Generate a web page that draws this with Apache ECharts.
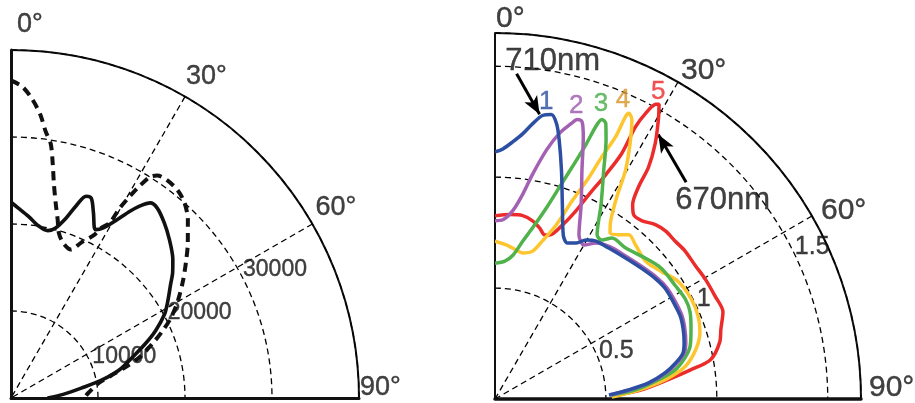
<!DOCTYPE html>
<html><head><meta charset="utf-8">
<script src="https://cdn.jsdelivr.net/npm/echarts@6/dist/echarts.min.js"></script>
<style>html,body{margin:0;padding:0;background:#fff}#c{width:915px;height:403px}</style>
</head><body><div id="c"></div>
<script>
// ---------- DATA (angle in degrees from vertical, value) ----------
const leftSolid = [[0,22500],[2.2,21850],[5.4,21000],[9.0,20050],[12.4,19700],[14.7,20200],[17.0,21600],[18.7,23300],[20.4,24750],[21.9,24750],[24.0,23300],[26.6,21650],[28.5,22250],[30.7,23800],[32.5,25450],[33.9,26600],[35.5,27550],[37.6,27550],[41.2,26750],[45.0,25750],[49.4,24500],[52.1,23550],[54.6,22500],[58.4,21150],[61.4,20100],[65.1,18300],[68.0,16650],[71.6,14650],[75.6,12800],[78.9,10600],[82.0,8150],[85.8,6100],[90,4200]];
const leftDashed = [[0,36500],[2.1,35800],[4.1,34400],[5.9,32750],[7.4,30900],[8.9,29550],[10.1,27350],[11.3,25150],[12.9,23000],[14.7,21150],[16.1,19800],[18.4,18850],[22.0,18400],[24.3,19600],[26.9,20950],[28.0,22150],[29.4,23100],[29.8,25150],[30.5,26900],[31.3,28600],[32.2,30050],[33.3,30600],[35.7,30800],[38.8,30600],[41.7,30000],[44.8,28850],[48.7,27050],[52.2,25450],[55.9,23850],[59.9,22150],[63.5,20500],[66.2,19000],[69.0,17400],[72.5,15450],[75.0,13550],[77.3,11850],[80.4,10200],[86.3,8900],[90,8400]];

const curve1 = [[0,1.114],[1.8,1.128],[4.0,1.163],[6.0,1.203],[7.8,1.253],[9.5,1.296],[11.2,1.308],[12.6,1.272],[13.9,1.204],[16.2,1.074],[19.1,0.928],[22.6,0.801],[24.9,0.775],[27.5,0.793],[29.8,0.826],[32.6,0.845],[37.0,0.852],[42.8,0.866],[48.3,0.885],[53.1,0.904],[57.0,0.915],[61.4,0.915],[65.9,0.915],[69.6,0.905],[73.3,0.890],[76.1,0.874],[78.6,0.833],[81.2,0.777],[84.0,0.696],[86.1,0.604],[88.0,0.514]];
const curve2 = [[0,0.804],[2.5,0.809],[5.4,0.853],[7.7,0.931],[9.5,1.028],[11.7,1.147],[13.6,1.231],[15.5,1.289],[16.4,1.314],[17.4,1.311],[18.6,1.248],[20.8,1.104],[23.9,0.959],[27.1,0.831],[30.1,0.802],[32.9,0.838],[37.0,0.860],[42.8,0.874],[48.3,0.893],[53.1,0.912],[57.0,0.923],[61.4,0.924],[65.9,0.923],[69.6,0.913],[73.3,0.898],[76.1,0.881],[78.6,0.840],[81.2,0.784],[84.0,0.702],[86.1,0.610],[88.0,0.518]];
const curve3 = [[0,0.612],[4.1,0.623],[7.1,0.653],[10.0,0.723],[12.4,0.790],[15.1,0.894],[16.9,0.997],[18.4,1.102],[19.7,1.222],[20.3,1.310],[20.9,1.349],[21.9,1.339],[23.2,1.271],[25.4,1.143],[28.6,0.999],[31.9,0.871],[33.9,0.864],[36.0,0.897],[40.9,0.900],[46.9,0.929],[51.9,0.954],[57.8,0.960],[62.2,0.969],[65.9,0.963],[70.4,0.938],[74.9,0.911],[77.7,0.877],[80.8,0.823],[83.3,0.742],[86.3,0.635],[88.0,0.527]];
const curve4 = [[0,0.712],[4.4,0.696],[8.3,0.678],[10.8,0.670],[14.3,0.688],[16.7,0.744],[19.4,0.833],[21.3,0.960],[23.0,1.086],[23.8,1.193],[24.7,1.302],[24.8,1.404],[25.1,1.422],[26.1,1.403],[27.6,1.319],[29.7,1.188],[31.1,1.062],[33.0,0.958],[34.7,0.911],[37.0,0.927],[39.2,0.955],[42.4,0.940],[47.6,0.920],[52.5,0.945],[57.3,0.981],[62.9,0.993],[67.8,0.989],[71.9,0.972],[76.1,0.933],[80.3,0.870],[83.5,0.773],[86.4,0.649],[89.0,0.527]];
const curve5 = [[0,0.826],[4.6,0.834],[8.6,0.836],[11.9,0.821],[14.6,0.797],[16.8,0.773],[18.4,0.779],[21.2,0.842],[23.3,0.925],[24.7,1.015],[26.3,1.130],[27.3,1.244],[27.3,1.382],[27.8,1.456],[28.6,1.513],[29.1,1.521],[30.3,1.460],[32.1,1.359],[33.5,1.254],[34.1,1.153],[35.3,1.074],[36.9,1.040],[39.4,1.041],[42.6,1.068],[45.4,1.079],[48.8,1.080],[52.1,1.086],[56.3,1.085],[60.1,1.091],[64.8,1.095],[69.1,1.100],[72.8,1.066],[75.8,1.045],[79.6,0.989],[81.5,0.894],[83.6,0.786],[86.4,0.662],[88.1,0.545]];

const angleTicks = [0, 30, 60, 90];
const angleTickLabels = ['0°', '30°', '60°', '90°'];
const leftRadialTicks = [10000, 20000, 30000];
const leftRadialLabels = ['10000', '20000', '30000'];
const rightRadialTicks = [0.5, 1, 1.5];
const rightRadialLabels = ['0.5', '1', '1.5'];
const leftMax = 40000, rightMax = 1.65;

const curveNames = ['1', '2', '3', '4', '5'];
const curveLabelAnchors = [[9.8,1.358],[15.5,1.370],[19.8,1.412],[23.2,1.465],[28.0,1.568]];
const noteTexts = ['710nm', '670nm'];
const noteAnchors = [[9.7,1.543],[48.9,1.362]];
const arrowLines = [[[3.8,1.469],[8.9,1.299]], [[41.4,1.303],[31.7,1.401]]];

// ---------- STYLE ----------
const INK = '#111';
const FONT = "'Liberation Sans', Arial, sans-serif";
const curveColors = ['#2c4fa3', '#a461b4', '#4fb24a', '#fdc52e', '#ec2b2b'];
const curveLabelColors = ['#2c4fa3', '#9f5aae', '#48ad48', '#d8952a', '#ee2c2c'];
const DASH = [6, 4];

const L = {center: [11, 398], radius: 348};
const R = {center: [495, 399], radius: 366};

function toRA(arr) { return arr.map(([a, v]) => [v, a]); }

function mainAngleAxis(pi, arcW) {
  return {polarIndex: pi, type: 'value', min: 0, max: 90, interval: 30,
    startAngle: 90, endAngle: 0, clockwise: true,
    axisLine: {show: true, lineStyle: {color: INK, width: arcW}},
    axisTick: {show: false}, axisLabel: {show: false},
    splitLine: {show: true, lineStyle: {color: '#000', width: 1.3, type: DASH}}};
}
function baseAngleAxis(pi) {
  return {polarIndex: pi, type: 'value', min: 0, max: 90,
    startAngle: 0, endAngle: 90, clockwise: false,
    axisLine: {show: false}, axisTick: {show: false}, axisLabel: {show: false}, splitLine: {show: false}};
}
function mainRadiusAxis(pi, max, interval, w) {
  return {polarIndex: pi, type: 'value', min: 0, max: max, interval: interval,
    axisLine: {show: true, lineStyle: {color: INK, width: w}},
    axisTick: {show: false}, axisLabel: {show: false},
    splitLine: {show: true, lineStyle: {color: '#000', width: 1.3, type: DASH}}, z: 3};
}
function baseRadiusAxis(pi, max, w) {
  return {polarIndex: pi, type: 'value', min: 0, max: max,
    axisLine: {show: true, lineStyle: {color: INK, width: w}},
    axisTick: {show: false}, axisLabel: {show: false}, splitLine: {show: false}, z: 3};
}

function labelSeries(pi, items, fontSize, color) {
  return {type: 'scatter', coordinateSystem: 'polar', polarIndex: pi, symbolSize: 0, silent: true,
    itemStyle: {color: 'transparent'}, z: 10,
    label: {show: true, formatter: '{b}', fontFamily: FONT, fontSize: fontSize, color: color,
      textBorderColor: color, textBorderWidth: 0.4},
    data: items};
}

const leftAngleOffsets = [[6,-25],[1,-20],[3,-16],[1,-10]];
const rightAngleOffsets = [[1,-14],[3,-11],[9,-5],[8,-11]];

const leftAngleItems = angleTicks.map((a, i) => ({name: angleTickLabels[i], value: [leftMax, a],
  label: {position: 'right', distance: 0, offset: leftAngleOffsets[i]}}));
const rightAngleItems = angleTicks.map((a, i) => ({name: angleTickLabels[i], value: [rightMax, a],
  label: {position: 'right', distance: 0, offset: rightAngleOffsets[i]}}));
const leftRadialItems = leftRadialTicks.map((v, i) => ({name: leftRadialLabels[i], value: [v, 60],
  label: {position: 'right', distance: 0, offset: [6, 2]}}));
const rightRadialItems = rightRadialTicks.map((v, i) => ({name: rightRadialLabels[i], value: [v, 62],
  label: {position: 'right', distance: 0, offset: [6, 4]}}));
const curveLabelItems = curveNames.map((n, i) => ({name: n, value: [curveLabelAnchors[i][1], curveLabelAnchors[i][0]],
  label: {position: 'inside', color: curveLabelColors[i], textBorderColor: curveLabelColors[i]}}));
const noteItems = noteTexts.map((t, i) => ({name: t, value: [noteAnchors[i][1], noteAnchors[i][0]],
  label: {position: 'inside'}}));

const series = [
  {type: 'line', coordinateSystem: 'polar', polarIndex: 0, data: toRA(leftSolid), showSymbol: false, smooth: 0.3,
    lineStyle: {color: '#111', width: 3.6}, z: 5},
  {type: 'line', coordinateSystem: 'polar', polarIndex: 0, data: toRA(leftDashed), showSymbol: false, smooth: 0.3,
    lineStyle: {color: '#111', width: 4, type: [9, 6]}, z: 5},
  labelSeries(0, leftAngleItems, 27, INK),
  labelSeries(0, leftRadialItems, 23, INK),
  labelSeries(2, rightAngleItems, 30, INK),
  labelSeries(2, rightRadialItems, 25, INK),
  labelSeries(2, curveLabelItems, 26, INK),
  Object.assign(labelSeries(2, noteItems, 31, INK), {
    markLine: {silent: true, symbol: ['none', 'arrow'], symbolSize: [11, 18],
      lineStyle: {color: '#000', width: 3, type: 'solid'}, label: {show: false},
      data: arrowLines.map(([p, q]) => [{coord: [p[1], p[0]]}, {coord: [q[1], q[0]]}])}
  })
];
[curve1, curve2, curve3, curve4, curve5].forEach((c, i) => {
  series.push({type: 'line', coordinateSystem: 'polar', polarIndex: 2, data: toRA(c), showSymbol: false, smooth: 0.3,
    lineStyle: {color: curveColors[i], width: 3.5}, z: 5 + (i === 0 ? 5 : 4 - i)});
});

const option = {
  animation: false,
  backgroundColor: '#fff',
  textStyle: {fontFamily: FONT},
  polar: [
    {center: L.center, radius: L.radius},
    {center: L.center, radius: L.radius},
    {center: R.center, radius: R.radius},
    {center: R.center, radius: R.radius}
  ],
  angleAxis: [mainAngleAxis(0, 2), baseAngleAxis(1), mainAngleAxis(2, 2), baseAngleAxis(3)],
  radiusAxis: [mainRadiusAxis(0, leftMax, 10000, 3), baseRadiusAxis(1, leftMax, 3),
               mainRadiusAxis(2, rightMax, 0.5, 2), baseRadiusAxis(3, rightMax, 3.5)],
  series: series
};
const chart = echarts.init(document.getElementById('c'), null, {renderer: 'canvas'});
chart.setOption(option);
</script></body></html>
